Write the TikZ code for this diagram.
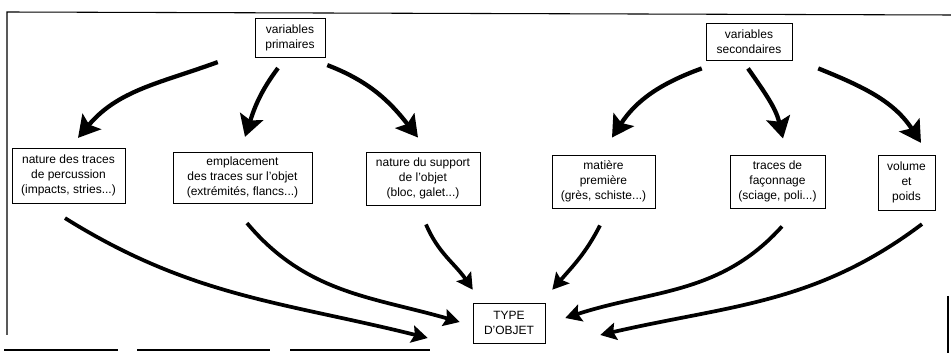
\documentclass[tikz,border=0pt]{standalone}
\usepackage{fontspec}
\setmainfont{Liberation Sans}
\usetikzlibrary{arrows.meta}

\begin{document}
\begin{tikzpicture}[x=0.75pt, y=0.75pt,
    box/.style={draw, rectangle, align=center, inner sep=2pt, font=\fontsize{9}{11.25}\selectfont},
    bigflow/.style={line width=3.2pt, -{Stealth[length=16pt, width=18pt, inset=3pt]}},
    flow/.style={line width=2.8pt, -{Stealth[length=12pt, width=13pt, inset=2pt]}}]
    \useasboundingbox (0,0) rectangle (951,353);
    % cadre
    \draw[line width=0.8pt] (951,338) -- (7,341) -- (7,18);
    \draw[line width=0.8pt] (4,3) -- (118,3) (137,3) -- (270,3) (290,3) -- (430,3);
    \draw[line width=0.8pt] (948,57) -- (948,0);

    \node[box, minimum width=52.5pt, minimum height=29pt] (P) at (290,315.5) {variables\\primaires};
    \node[box, minimum width=64.5pt, minimum height=28pt] (S) at (749,311.5) {variables\\secondaires};

    \node[box, minimum width=84.75pt, minimum height=41pt] (N) at (68.5,177.5) {nature des traces\\de percussion\\(impacts, stries...)};
    \node[box, minimum width=104.25pt, minimum height=38pt] (E) at (242.5,175.5) {emplacement\\des traces sur l'objet\\(extrémités, flancs...)};
    \node[box, minimum width=85.5pt, minimum height=40pt] (B) at (423,174.5) {nature du support\\de l'objet\\(bloc, galet...)};
    \node[box, minimum width=77.25pt, minimum height=40pt] (M) at (603.5,171.5) {matière\\première\\(grès, schiste...)};
    \node[box, minimum width=71.25pt, minimum height=40pt] (F) at (777.5,171.5) {traces de\\façonnage\\(sciage, poli...)};
    \node[box, minimum width=42.75pt, minimum height=41pt] (V) at (906.5,170.5) {volume\\et\\poids};

    \node[box, minimum width=54pt, minimum height=30pt] (T) at (509,30) {TYPE\\D'OBJET};

    % variables primaires
    \draw[bigflow] ([shift={(-37,-5)}]P.south west) to[out=200, in=50] ([shift={(9.5,10)}]N.north);
    \draw[bigflow] ([shift={(-12,-11)}]P.south) to[out=233, in=72] ([shift={(2.5,15)}]E.north);
    \draw[bigflow] ([shift={(2,-8)}]P.south east) to[out=-21, in=128] ([shift={(-5,14)}]B.north);
    % variables secondaires
    \draw[bigflow] ([shift={(-4,-8)}]S.south west) to[out=200, in=57] ([shift={(8.5,17)}]M.north);
    \draw[bigflow] ([shift={(-1,-8)}]S.south) to[out=-55, in=103] ([shift={(5.5,16)}]F.north);
    \draw[bigflow] ([shift={(26,-8)}]S.south east) to[out=-22, in=123] ([shift={(14.5,12)}]V.north);
    % vers le type d'objet
    \draw[flow] ([shift={(-3.5,-15)}]N.south) to[out=-32, in=166] ([shift={(-45,-15)}]T.west);
    \draw[flow] ([shift={(4.5,-20)}]E.south) to[out=-50, in=164] ([shift={(-13,1)}]T.west);
    \draw[flow] ([shift={(3,-19)}]B.south) to[out=-67, in=124] ([shift={(0,13)}]T.north west);
    \draw[flow] ([shift={(-3.5,-17)}]M.south) to[out=243, in=49] ([shift={(7,13)}]T.north east);
    \draw[flow] ([shift={(4.5,-18)}]F.south) to[out=228, in=18] ([shift={(20,5)}]T.east);
    \draw[flow] ([shift={(15.5,-14)}]V.south) to[out=217, in=13] ([shift={(55,-12)}]T.east);
\end{tikzpicture}
\end{document}
